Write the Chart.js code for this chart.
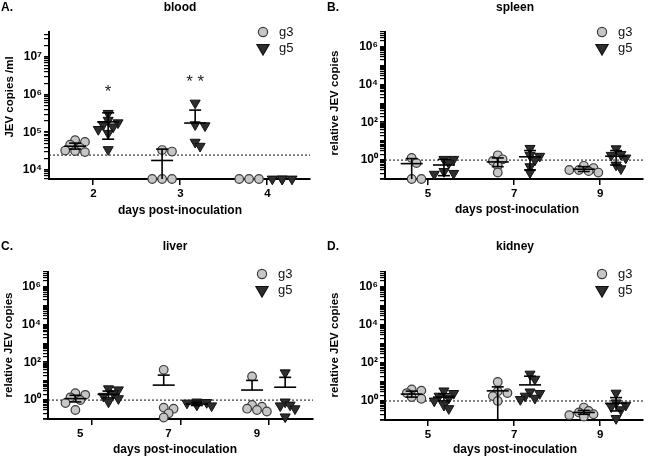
<!DOCTYPE html>
<html>
<head>
<meta charset="utf-8">
<script src="https://cdn.jsdelivr.net/npm/chart.js@4/dist/chart.umd.min.js"></script>
<style>
  body { margin: 0; background: #fff; }
  #wrap { position: relative; width: 650px; height: 464px; overflow: hidden; }
  canvas { position: absolute; }
</style>
</head>
<body>
<div id="wrap">
  <canvas id="cA" width="325" height="232" style="left:0;top:0"></canvas>
  <canvas id="cB" width="325" height="232" style="left:325px;top:0"></canvas>
  <canvas id="cC" width="325" height="232" style="left:0;top:232px"></canvas>
  <canvas id="cD" width="325" height="232" style="left:325px;top:232px"></canvas>
</div>
<script>
// ---- data ----
const groups = ["g3", "g5"];
const bloodDays = [2, 3, 4];
const organDays = [5, 7, 9];

// blood (JEV copies/ml); undetectable samples sit on the axis
const bloodG3 = [[62000, 56000, 47000, 39000, 33000, 30000, 32000], [34000, 31000, 5800, 5800, 5800], [5800, 5800, 5800]];
const bloodG5 = [[320000, 210000, 180000, 160000, 140000, 120000, 95000, 35000], [600000, 160000, 150000, 55000, 43000], [5800, 5800, 5800, 5800]];
const bloodMean = [[43000, 18000, null], [190000, 177000, null]];
const bloodHigh = [[52000, 36000, null], [330000, 390000, null]];
const bloodLow = [[36000, 5800, null], [66000, null, null]];
const bloodLimit = 25000;
const bloodStars = ["*", "* *", ""];

// spleen (relative JEV copies)
const spleenG3 = [[1.3, 0.7, 0.1, 0.1], [1.8, 1.1, 0.9, 0.5, 0.22], [0.5, 0.38, 0.3, 0.26, 0.22, 0.3]];
const spleenG5 = [[1.1, 1.1, 0.7, 0.25, 0.18, 0.2], [4.2, 1.8, 1.6, 1.0, 0.45, 0.22], [4.0, 2.0, 1.8, 1.3, 0.55, 0.35]];
const spleenMean = [[0.65, 0.8, 0.33], [0.55, 1.5, 1.6]];
const spleenHigh = [[1.2, 1.3, 0.45], [1.1, 3.2, 3.2]];
const spleenLow = [[0.1, 0.45, 0.25], [0.15, 0.3, 0.55]];

// liver
const liverG3 = [[2.3, 1.9, 1.4, 1.0, 0.7, 0.3], [40, 0.4, 0.35, 0.2, 0.12], [18, 0.55, 0.45, 0.35, 0.3, 0.25]];
const liverG5 = [[4.0, 3.5, 2.2, 1.6, 1.2, 0.8], [0.8, 0.75, 0.7, 0.65, 0.6, 0.55, 0.5], [28, 0.8, 0.55, 0.5, 0.35, 0.13]];
const liverMean = [[1.2, 6.2, 3.4], [2.0, 0.62, 4.8]];
const liverHigh = [[1.8, 21, 11], [3.0, 0.72, 16]];
const liverLow = [[0.8, null, null], [1.3, 0.52, null]];

// kidney
const kidneyG3 = [[4.0, 3.5, 2.6, 1.6, 1.3], [10, 3.2, 2.6, 1.8, 1.0], [0.45, 0.3, 0.25, 0.2, 0.18, 0.15]];
const kidneyG5 = [[3.4, 2.5, 1.8, 1.4, 1.0, 0.6, 0.4], [26, 14, 3.0, 2.5, 1.8, 1.4, 1.2], [2.6, 0.8, 0.6, 0.5, 0.35, 0.12]];
const kidneyMean = [[2.3, 3.4, 0.25], [1.6, 7, 0.75]];
const kidneyHigh = [[3.3, 5.5, 0.32], [2.4, 20, 1.5]];
const kidneyLow = [[1.6, 0.1, 0.2], [1.0, null, 0.3]];
const organLimit = 1;

// ---- drawing ----
const FONT = '"Liberation Sans", Arial, Helvetica, sans-serif';
const SUP = { "0": "\u2070", "1": "\u00b9", "2": "\u00b2", "3": "\u00b3", "4": "\u2074", "5": "\u2075", "6": "\u2076", "7": "\u2077", "8": "\u2078", "9": "\u2079" };

const panels = [
  { id: "cA", letter: "A.", title: "blood", yTitle: "JEV copies /ml", days: bloodDays,
    g3: bloodG3, g5: bloodG5, mean: bloodMean, high: bloodHigh, low: bloodLow, limit: bloodLimit, stars: bloodStars,
    area: { left: 49, right: 310, top: 32, bottom: 179 }, xMin: 1.5, xMax: 4.5, yMin: 5800, yMax: 4.6e7,
    majors: [4, 5, 6, 7], off: [-0.2, 0.18], labelOffset: 1,
    pos: { letter: [1, 8], title: [180, 8], yTitle: [10, 97], xTitle: [180, 211], legend: [263, 32] } },
  { id: "cB", letter: "B.", title: "spleen", yTitle: "relative JEV copies", days: organDays,
    g3: spleenG3, g5: spleenG5, mean: spleenMean, high: spleenHigh, low: spleenLow, limit: organLimit,
    area: { left: 60, right: 323, top: 32, bottom: 179 }, xMin: 4, xMax: 10, yMin: 0.1, yMax: 6e6,
    majors: [0, 2, 4, 6], off: [-0.38, 0.37], labelOffset: 0,
    pos: { letter: [2, 8], title: [190, 8], yTitle: [10, 103], xTitle: [192, 210], legend: [277, 32] } },
  { id: "cC", letter: "C.", title: "liver", yTitle: "relative JEV copies", days: organDays,
    g3: liverG3, g5: liverG5, mean: liverMean, high: liverHigh, low: liverLow, limit: organLimit,
    area: { left: 48, right: 313, top: 40, bottom: 187 }, xMin: 4, xMax: 10, yMin: 0.1, yMax: 6e6,
    majors: [0, 2, 4, 6], off: [-0.38, 0.37], labelOffset: -12,
    pos: { letter: [1, 15], title: [175, 15], yTitle: [9, 113], xTitle: [175, 218], legend: [262, 42] } },
  { id: "cD", letter: "D.", title: "kidney", yTitle: "relative JEV copies", days: organDays,
    g3: kidneyG3, g5: kidneyG5, mean: kidneyMean, high: kidneyHigh, low: kidneyLow, limit: organLimit,
    area: { left: 60, right: 323, top: 40, bottom: 188 }, xMin: 4, xMax: 10, yMin: 0.1, yMax: 6e6,
    majors: [0, 2, 4, 6], off: [-0.38, 0.37], labelOffset: 0,
    pos: { letter: [2, 15], title: [190, 15], yTitle: [10, 113], xTitle: [190, 218], legend: [277, 42] } }
];

// spread points with similar values side by side (like a scatter dot plot)
function swarm(vals, center, pxX, pxDec, gap) {
  const placed = [];
  const out = [];
  const order = vals.map((v, i) => i).sort((a, b) => vals[b] - vals[a]);
  order.forEach(i => {
    const py = -Math.log10(vals[i]) * pxDec;
    let px = 0;
    for (const s of [0, 1, -1, 2, -2, 3, -3]) {
      const cand = s * gap * 0.85;
      if (placed.every(p => Math.hypot(p.px - cand, p.py - py) >= gap)) { px = cand; break; }
    }
    placed.push({ px, py });
    out[i] = { x: center + px / pxX, y: vals[i] };
  });
  return out;
}

function logTicks(min, max) {
  const t = [];
  for (let e = Math.floor(Math.log10(min)); e <= Math.ceil(Math.log10(max)); e++) {
    for (let m = 1; m < 10; m++) {
      const v = m * Math.pow(10, e);
      if (v >= min * 0.999 && v <= max * 1.001) t.push({ value: v, major: m === 1 });
    }
  }
  return t;
}

function drawMarker(ctx, kind, x, y, r) {
  ctx.beginPath();
  if (kind === "circle") {
    ctx.arc(x, y, r, 0, Math.PI * 2);
    ctx.fillStyle = "#c6c6c6"; ctx.strokeStyle = "#3c3c3c";
  } else {
    ctx.moveTo(x - r * 0.87, y - r * 0.5);
    ctx.lineTo(x + r * 0.87, y - r * 0.5);
    ctx.lineTo(x, y + r);
    ctx.closePath();
    ctx.fillStyle = "#2e2e2e"; ctx.strokeStyle = "#111";
  }
  ctx.lineWidth = 1.2;
  ctx.fill(); ctx.stroke();
}

const decor = {
  id: "decor",
  afterDatasetsDraw(chart, args, o) {
    const p = o.panel;
    const { ctx, scales: { x, y } } = chart;
    ctx.save();
    ctx.strokeStyle = "#000";
    ctx.lineWidth = 1.6;
    const line = (x1, y1, x2, y2) => { ctx.beginPath(); ctx.moveTo(x1, y1); ctx.lineTo(x2, y2); ctx.stroke(); };
    [0, 1].forEach(g => {
      p.days.forEach((d, i) => {
        const m = p.mean[g][i];
        if (m == null) return;
        const cx = x.getPixelForValue(d + p.off[g]);
        const ym = y.getPixelForValue(m);
        line(cx - 11, ym, cx + 11, ym);
        const hi = p.high[g][i], lo = p.low[g][i];
        if (hi != null) {
          const yh = y.getPixelForValue(hi);
          line(cx, ym, cx, yh);
          line(cx - 6, yh, cx + 6, yh);
        }
        if (lo != null) {
          const yl = Math.min(y.getPixelForValue(lo), chart.chartArea.bottom);
          line(cx, ym, cx, yl);
          if (lo > p.yMin) line(cx - 6, yl, cx + 6, yl);
        }
      });
    });
    // significance marks
    if (p.stars) {
      ctx.fillStyle = "#222";
      ctx.font = "17px " + FONT;
      ctx.textAlign = "center";
      ctx.textBaseline = "middle";
      p.stars.forEach((s, i) => {
        if (!s) return;
        const top = Math.max(...p.g5[i]);
        ctx.fillText(s, x.getPixelForValue(p.days[i] + p.off[1]), y.getPixelForValue(top) - 21);
      });
    }
    ctx.restore();
  },
  afterDraw(chart, args, o) {
    const p = o.panel;
    const ctx = chart.ctx;
    const q = p.pos;
    ctx.save();
    ctx.fillStyle = "#000";
    ctx.textBaseline = "middle";
    ctx.font = "bold 12px " + FONT;
    ctx.textAlign = "left";
    ctx.fillText(p.letter, q.letter[0], q.letter[1]);
    ctx.textAlign = "center";
    ctx.fillText(p.title, q.title[0], q.title[1]);
    ctx.fillText("days post-inoculation", q.xTitle[0], q.xTitle[1]);
    ctx.save();
    ctx.translate(q.yTitle[0], q.yTitle[1]);
    ctx.rotate(-Math.PI / 2);
    ctx.font = "bold 11.5px " + FONT;
    ctx.fillText(p.yTitle, 0, 0);
    ctx.restore();
    // legend
    const [lx, ly] = q.legend;
    drawMarker(ctx, "circle", lx, ly, 4.6);
    drawMarker(ctx, "triangle", lx, ly + 16, 7);
    ctx.fillStyle = "#111";
    ctx.font = "13px " + FONT;
    ctx.textAlign = "left";
    ctx.fillText(groups[0], lx + 16, ly);
    ctx.fillText(groups[1], lx + 16, ly + 16);
    ctx.restore();
  }
};

panels.forEach(p => {
  const W = 325, H = 232;
  const pxX = (p.area.right - p.area.left) / (p.xMax - p.xMin);
  const pxDec = (p.area.bottom - p.area.top) / (Math.log10(p.yMax) - Math.log10(p.yMin));
  const pts = [p.g3, p.g5].map((series, g) =>
    series.flatMap((vals, i) => swarm(vals, p.days[i] + p.off[g], pxX, pxDec, 5.8)));

  new Chart(document.getElementById(p.id), {
    type: "scatter",
    data: {
      datasets: [
        { label: "limit", type: "line", data: [{ x: p.xMin, y: p.limit }, { x: p.xMax, y: p.limit }],
          borderColor: "#333", borderWidth: 1.2, borderDash: [2, 2], pointRadius: 0, order: 3 },
        { label: groups[0], data: pts[0], pointStyle: "circle", pointRadius: 4.3,
          backgroundColor: "#c6c6c6", borderColor: "#3c3c3c", borderWidth: 1.2, clip: false, order: 2 },
        { label: groups[1], data: pts[1], pointStyle: "triangle", pointRotation: 180, pointRadius: 5.8,
          backgroundColor: "#2e2e2e", borderColor: "#111", borderWidth: 1, clip: false, order: 1 }
      ]
    },
    options: {
      responsive: false,
      animation: false,
      events: [],
      layout: { padding: { left: 0, top: p.area.top, right: W - p.area.right, bottom: 0 } },
      plugins: { legend: { display: false }, title: { display: false }, tooltip: { enabled: false }, decor: { panel: p } },
      scales: {
        x: {
          type: "linear", min: p.xMin, max: p.xMax,
          afterBuildTicks: axis => { axis.ticks = p.days.map(v => ({ value: v })); },
          afterFit: s => { s.height = H - p.area.bottom; },
          grid: { drawOnChartArea: false, drawTicks: true, tickLength: 6, color: "#000", lineWidth: 1.5 },
          border: { color: "#000", width: 2 },
          ticks: { color: "#000", font: { family: FONT, size: 11.5, weight: "bold" }, padding: 2,
                   labelOffset: p.labelOffset, autoSkip: false, maxRotation: 0, callback: v => String(v) }
        },
        y: {
          type: "logarithmic", min: p.yMin, max: p.yMax,
          afterBuildTicks: axis => { axis.ticks = logTicks(p.yMin, p.yMax); },
          afterFit: s => { s.width = p.area.left; },
          grid: { drawOnChartArea: false, drawTicks: true, tickLength: 5, color: "#000",
                  lineWidth: c => (c.tick && c.tick.major ? 1.8 : 1.2) },
          border: { color: "#000", width: 2 },
          ticks: {
            color: "#000", font: { family: FONT, size: 12, weight: "bold" }, padding: 2, autoSkip: false,
            callback: v => {
              const e = Math.round(Math.log10(v));
              if (Math.abs(v / Math.pow(10, e) - 1) < 1e-6 && p.majors.includes(e)) return "10" + SUP[String(e)];
              return "";
            }
          }
        }
      }
    },
    plugins: [decor]
  });
});
</script>
</body>
</html>
